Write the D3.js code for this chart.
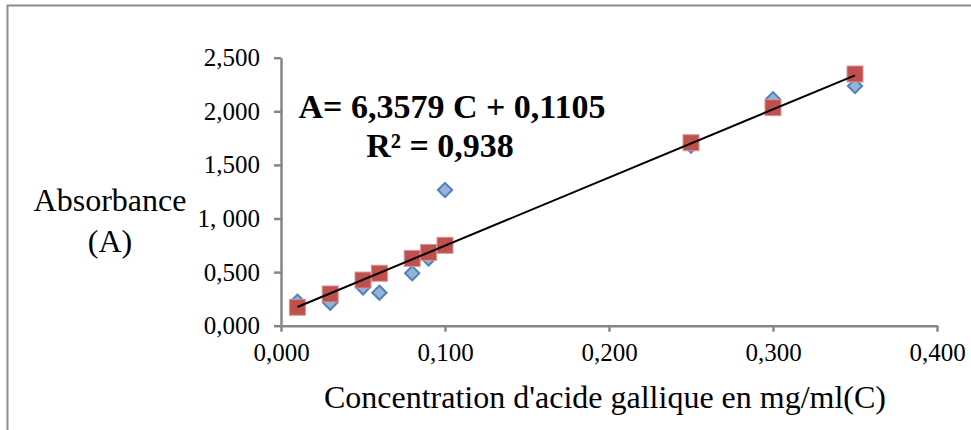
<!DOCTYPE html>
<html><head><meta charset="utf-8">
<script src="https://cdn.jsdelivr.net/npm/d3@7"></script>
<style>body{margin:0;background:#fff}svg{display:block}</style>
</head><body>
<svg id="c" width="971" height="430"></svg>
<script>
const concentrations = [0.01, 0.03, 0.05, 0.06, 0.08, 0.09, 0.10, 0.25, 0.30, 0.35];
const seriesBlue = [0.224, 0.215, 0.358, 0.308, 0.489, 0.628, 1.266, 1.68, 2.112, 2.236];
const seriesRed  = [0.172, 0.296, 0.426, 0.489, 0.628, 0.684, 0.750, 1.707, 2.034, 2.348];
const xTicks = [0, 0.1, 0.2, 0.3, 0.4];
const xTickLabels = ["0,000", "0,100", "0,200", "0,300", "0,400"];
const yTicks = [0, 0.5, 1.0, 1.5, 2.0, 2.5];
const yTickLabels = ["0,000", "0,500", "1, 000", "1,500", "2,000", "2,500"];
const slope = 6.3579, intercept = 0.1105;
const trendRange = [0.01, 0.35];
const eqText = "A= 6,3579 C + 0,1105";
const r2Text = "R\u00b2 = 0,938";
const xTitle = "Concentration d'acide gallique en mg/ml(C)";
const yTitle = ["Absorbance", "(A)"];

const svg = d3.select("#c");
const serif = "'Liberation Serif','Times New Roman',serif";
const axisCol = "#868686";

// outer frame (left + top)
svg.append("path").attr("d", "M7.5,430 V5.5 H971").attr("fill", "none").attr("stroke", "#8c8c8c").attr("stroke-width", 2);

const x = d3.scaleLinear().domain([0, 0.4]).range([281, 937]);
const y = d3.scaleLinear().domain([0, 2.5]).range([325.7, 57.7]);

// axes
const xAxis = d3.axisBottom(x).tickValues(xTicks).tickFormat((d, i) => xTickLabels[i]).tickSizeInner(6).tickSizeOuter(0).tickPadding(12);
const gx = svg.append("g").attr("transform", `translate(0,${y(0)})`).call(xAxis);
gx.select(".domain").attr("stroke", axisCol).attr("stroke-width", 2.5);
gx.selectAll(".tick line").attr("stroke", axisCol).attr("stroke-width", 2.5);
gx.selectAll(".tick text").attr("font-family", serif).attr("font-size", 25).attr("fill", "#000");

const yAxis = d3.axisLeft(y).tickValues(yTicks).tickFormat((d, i) => yTickLabels[i]).tickSizeInner(7).tickSizeOuter(0).tickPadding(14);
const gy = svg.append("g").attr("transform", `translate(${x(0)},0)`).call(yAxis);
gy.select(".domain").attr("stroke", axisCol).attr("stroke-width", 2.5);
gy.selectAll(".tick line").attr("stroke", axisCol).attr("stroke-width", 2.5);
gy.selectAll(".tick text").attr("font-family", serif).attr("font-size", 25).attr("fill", "#000");

// markers: blue diamonds
const diamond = d3.symbol().type(d3.symbolDiamond2).size(130);
svg.append("g").selectAll("path").data(concentrations).join("path")
  .attr("d", diamond)
  .attr("transform", (d, i) => `translate(${x(d)},${y(seriesBlue[i])})`)
  .attr("fill", "#95B3D7").attr("stroke", "#4F81BD").attr("stroke-width", 2);

// red squares
const sq = 16;
svg.append("g").selectAll("rect").data(concentrations).join("rect")
  .attr("x", d => x(d) - sq / 2).attr("y", (d, i) => y(seriesRed[i]) - sq / 2)
  .attr("width", sq).attr("height", sq)
  .attr("fill", "#C0504D").attr("stroke", "#D99694").attr("stroke-width", 1);

// trend line
svg.append("line")
  .attr("x1", x(trendRange[0])).attr("y1", y(slope * trendRange[0] + intercept))
  .attr("x2", x(trendRange[1])).attr("y2", y(slope * trendRange[1] + intercept))
  .attr("stroke", "#000").attr("stroke-width", 2);

// equation
svg.append("text").attr("x", 452).attr("y", 118).attr("text-anchor", "middle")
  .attr("font-family", serif).attr("font-weight", "bold").attr("font-size", 34).text(eqText);
svg.append("text").attr("x", 440).attr("y", 157).attr("text-anchor", "middle")
  .attr("font-family", serif).attr("font-weight", "bold").attr("font-size", 34).text(r2Text);

// axis titles
svg.append("text").attr("x", 605).attr("y", 408).attr("text-anchor", "middle")
  .attr("font-family", serif).attr("font-size", 32).text(xTitle);
svg.append("text").attr("x", 110).attr("y", 211).attr("text-anchor", "middle")
  .attr("font-family", serif).attr("font-size", 32).text(yTitle[0]);
svg.append("text").attr("x", 110).attr("y", 252).attr("text-anchor", "middle")
  .attr("font-family", serif).attr("font-size", 32).text(yTitle[1]);
</script>
</body></html>
